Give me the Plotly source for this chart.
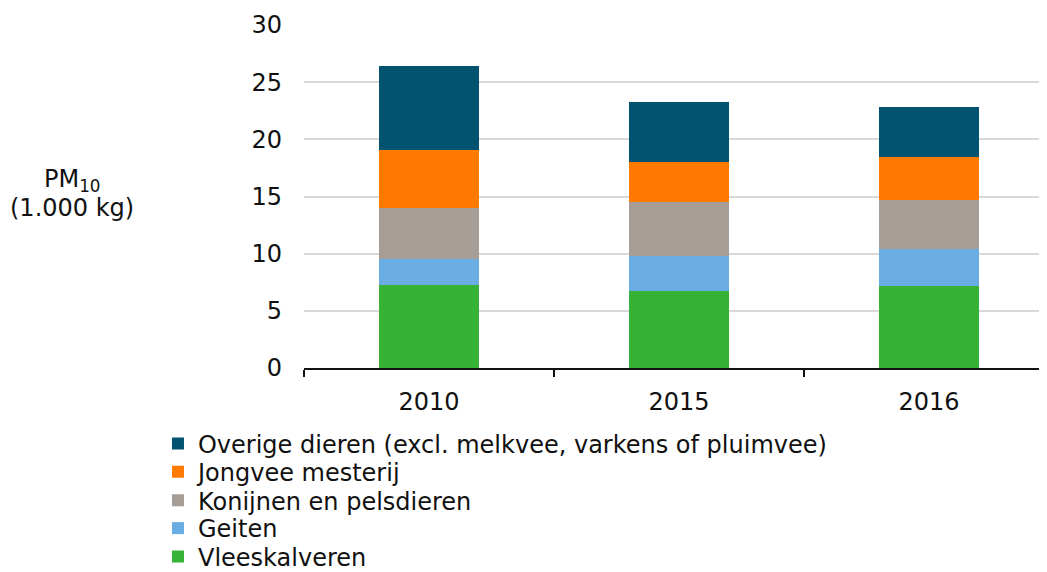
import plotly.graph_objects as go

years = ["2010", "2015", "2016"]
vleeskalveren = [7.28, 6.70, 7.16]
geiten = [2.24, 3.08, 3.25]
konijnen = [4.48, 4.76, 4.31]
jongvee = [5.11, 3.51, 3.73]
overige = [7.27, 5.23, 4.34]

series = [
    ("Vleeskalveren", vleeskalveren, "#36B237"),
    ("Geiten", geiten, "#69ADE3"),
    ("Konijnen en pelsdieren", konijnen, "#A59D96"),
    ("Jongvee mesterij", jongvee, "#FF7A00"),
    ("Overige dieren (excl. melkvee, varkens of pluimvee)", overige, "#01536F"),
]
# legend row positions (paper coords), bottom-to-top order matches series
legend_rows = [-0.551, -0.468, -0.387, -0.304, -0.221]

font = "DejaVu Sans, Verdana, sans-serif"
FS = 24

fig = go.Figure()
legends = {}
for i, (name, vals, col) in enumerate(series):
    key = "legend" if i == 0 else f"legend{i+1}"
    fig.add_trace(go.Bar(x=years, y=vals, name=name, marker=dict(color=col, line=dict(width=0)),
                         legend=key))
    legends[key] = dict(x=-0.1947, xanchor="left", y=legend_rows[i], yanchor="middle",
                        font=dict(size=FS, family=font, color="#111"), bgcolor="rgba(0,0,0,0)",
                        borderwidth=0, itemwidth=30)

fig.update_layout(
    barmode="stack",
    bargap=0.6,
    width=1047, height=572,
    margin=dict(l=296, r=1, t=17, b=204),
    plot_bgcolor="white", paper_bgcolor="white",
    font=dict(family=font, size=FS, color="#111"),
    showlegend=True,
    xaxis=dict(type="category", range=[-0.5, 2.5], showline=True, linecolor="#111", linewidth=2,
               ticks="outside", tickson="boundaries", ticklen=7, tickcolor="#111", tickwidth=2,
               showgrid=False, ticklabelstandoff=11),
    yaxis=dict(range=[0, 30], tickvals=[0, 5, 10, 15, 20, 25, 30], showgrid=True,
               gridcolor="#D9D9D9", gridwidth=2, zeroline=False, showline=False,
               ticks="", ticklabelstandoff=21),
    annotations=[
        dict(text="PM<sub>10</sub>", xref="paper", yref="paper", x=-0.3093, y=0.546,
             xanchor="center", yanchor="middle", showarrow=False,
             font=dict(size=FS, family=font, color="#111")),
        dict(text="(1.000 kg)", xref="paper", yref="paper", x=-0.3093, y=0.466,
             xanchor="center", yanchor="middle", showarrow=False,
             font=dict(size=FS, family=font, color="#111")),
    ],
)
fig.update_layout(**legends)

fig.write_html("out.html")
